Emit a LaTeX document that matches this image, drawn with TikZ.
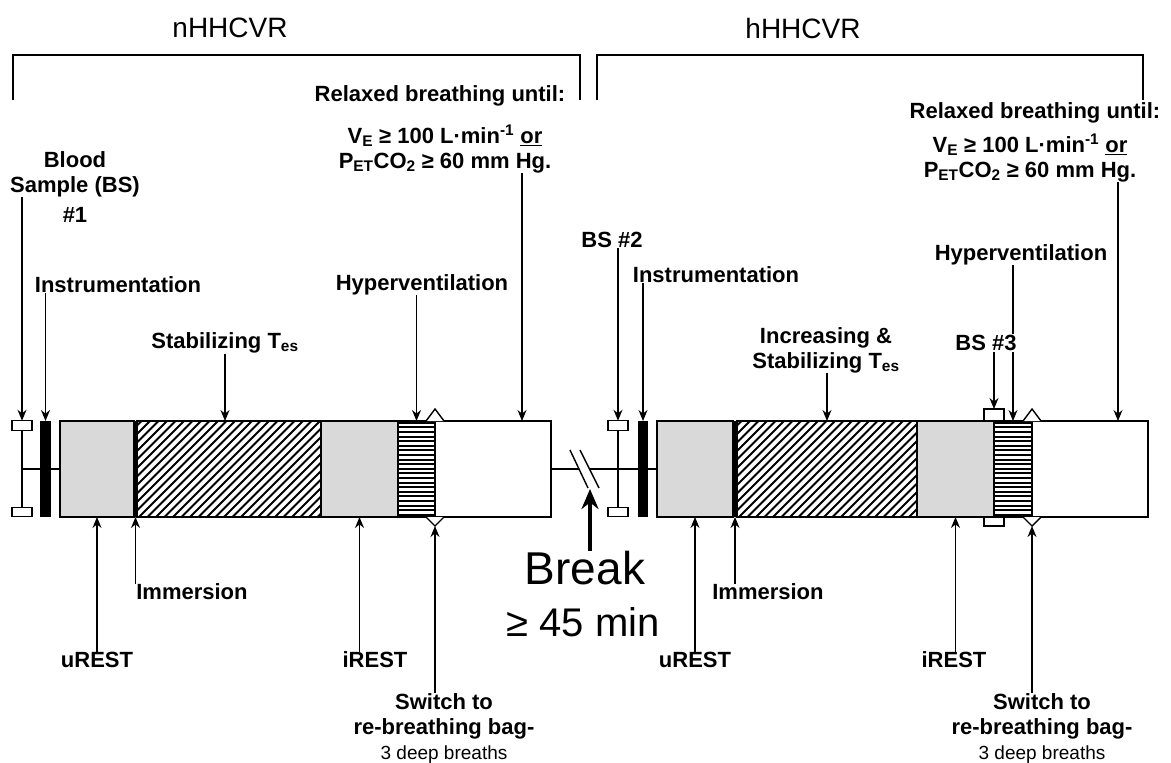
\documentclass[tikz,border=0pt]{standalone}
\usepackage{fontspec}
\setmainfont{Liberation Sans}
\usetikzlibrary{arrows.meta,positioning}

\begin{document}
\begin{tikzpicture}[x=1pt, y=-1pt,
  lbl/.style={font=\bfseries\fontsize{22}{25}\selectfont, align=center, inner sep=0pt},
  ttl/.style={font=\fontsize{28}{30}\selectfont, inner sep=0pt},
  blk/.style={draw, line width=1.6pt, minimum height=96pt, inner sep=0pt, outer sep=0pt},
  greyblk/.style={blk, fill=black!15, minimum width=#1},
  whiteblk/.style={blk, fill=white, minimum width=#1},
  blackblk/.style={fill=black, inner sep=0pt, outer sep=0pt, minimum height=96pt, minimum width=#1},
  hatchblk/.style={blk, fill=white, minimum width=#1, path picture={
      \foreach \k in {-100,-91.5,...,190}
        \draw[line width=1.8pt] ([xshift=\k pt]path picture bounding box.south west) -- ++(110,-110);}},
  stripeblk/.style={blk, fill=white, minimum width=#1, path picture={
      \foreach \k in {2.3,6.9,...,96}
        \draw[line width=2pt] ([yshift=\k pt]path picture bounding box.south west) -- ++(40,0);}},
  bsbox/.style={draw, line width=1.4pt, fill=white, minimum width=20pt, minimum height=#1, inner sep=0pt, outer sep=0pt},
  marker/.style={draw, line width=1.4pt, fill=white},
  arr/.style={-{Stealth[length=11pt,width=9pt]}, line width=1.4pt},
  bigarr/.style={-{Stealth[length=20pt,width=17pt]}, line width=4pt}
]
\useasboundingbox[fill=white] (0,0) rectangle (1171,763);

% phase titles and brackets
\node[ttl] (ttlA) at (230,28) {nHHCVR};
\node[ttl] (ttlB) at (803,28) {hHHCVR};
\draw[line width=1.4pt] (13,100) -- (13,55) -- (580,55) -- (580,100);
\draw[line width=1.4pt] (597,100) -- (597,55) -- (1143,55) -- (1143,100);

% nHHCVR protocol bar
\node[bsbox=9.5pt] (bs1top) at (22,425.5) {};
\node[bsbox=9.5pt] (bs1bot) at (22,512) {};
\node[greyblk=74pt] (urestA) at (97,469) {};
\draw[line width=1.4pt] (bs1top) -- (bs1bot);
\draw[line width=1.4pt] (bs1top.south |- urestA.west) -- (urestA.west);
\node[blackblk=11pt] (bar1) at (45.5,469) {};
\node[hatchblk=184pt] (stabA) at (229,469) {};
\node[greyblk=77pt] (irestA) at (359.5,469) {};
\node[stripeblk=37pt] (hypA) at (416.5,469) {};
\node[whiteblk=116pt] (relA) at (493,469) {};
\node[blackblk=3.5pt] (immA) at (135.5,469) {};
\draw[marker] (hypA.north east) ++(-9,0) -- ++(9,-12) -- ++(9,12);
\draw[marker] (hypA.south east) ++(-9,0) -- ++(9,9) -- ++(9,-9);
\coordinate (swAbot) at ([yshift=-9pt]hypA.south east);

% hHHCVR protocol bar
\node[bsbox=9.5pt] (bs2top) at (618,425.5) {};
\node[bsbox=9.5pt] (bs2bot) at (618,512) {};
\node[greyblk=76pt] (urestB) at (695,469) {};
\draw[line width=1.4pt] (bs2top) -- (bs2bot);
\draw[line width=1.4pt] (relA.east) -- (urestB.west);
\node[blackblk=10pt] (bar2) at (643,469) {};
\node[hatchblk=180pt] (stabB) at (827,469) {};
\node[greyblk=77pt] (irestB) at (955.5,469) {};
\node[stripeblk=38pt] (hypB) at (1013,469) {};
\node[whiteblk=116pt] (relB) at (1090,469) {};
\node[blackblk=4pt] (immB) at (735,469) {};
\node[bsbox=12pt] (bs3top) at (994,415) {};
\node[bsbox=9pt] (bs3bot) at (994,521.5) {};
\draw[marker] (hypB.north east) ++(-9,0) -- ++(9,-12) -- ++(9,12);
\draw[marker] (hypB.south east) ++(-9,0) -- ++(9,9) -- ++(9,-9);
\coordinate (swBbot) at ([yshift=-9pt]hypB.south east);

% break
\coordinate (brk) at (584,469);
\fill[white] (brk) ++(-14,-19) -- ++(10,0) -- ++(19,38) -- ++(-10,0) -- cycle;
\draw[line width=1.4pt] (brk) ++(-14,-19) -- ++(18,38);
\draw[line width=1.4pt] (brk) ++(-4,-19) -- ++(19,38);
\node[font=\fontsize{46}{48}\selectfont, inner sep=0pt] (brkLbl) at (585,568) {Break};
\node[font=\fontsize{40}{42}\selectfont, inner sep=0pt] (brkTime) at (583,622) {≥ 45 min};
\coordinate (brkTip) at (590,489);
\draw[bigarr] (brkLbl.north -| brkTip) -- (brkTip);

% labels above, nHHCVR
\node[lbl] (bs1lbl) at (75,174) {Blood\\Sample (BS)};
\node[lbl] (bs1num) at (75,215) {\#1};
\draw[arr] (bs1lbl.south -| bs1top.north) -- (bs1top.north);
\node[lbl] (insAlbl) at (118,285) {Instrumentation};
\draw[arr] (insAlbl.south -| bar1.north) -- (bar1.north);
\node[lbl] (stabAlbl) at (225,343) {Stabilizing T\textsubscript{es}};
\draw[arr] (stabAlbl.south) -- (stabAlbl.south |- stabA.north);
\node[lbl] (hypAlbl) at (422,285) {Hyperventilation};
\draw[arr] (hypAlbl.south -| hypA.north) -- (hypA.north);
\node[lbl] (relAlbl) at (440,96) {Relaxed breathing until:};
\node[lbl] (condA) at (445,149) {V\textsubscript{E} ≥ 100 L·min\textsuperscript{-1} \underline{or}\\P\textsubscript{ET}CO\textsubscript{2} ≥ 60 mm Hg.};
\coordinate (relAtip) at (522,421);
\draw[arr] (condA.south -| relAtip) -- (relAtip);

% labels below, nHHCVR
\node[lbl] (urestAlbl) at (97,660) {uREST};
\draw[arr] (urestAlbl.north) -- (urestAlbl.north |- urestA.south);
\node[lbl] (immAlbl) at (192,592) {Immersion};
\draw[arr] (immAlbl.north -| immA.south) -- (immA.south);
\node[lbl] (irestAlbl) at (375,660) {iREST};
\draw[arr] (irestAlbl.north -| irestA.south) -- (irestA.south);
\node[lbl, anchor=north] (swAlbl) at (444,693) {Switch to\\re-breathing bag-\\{\mdseries\fontsize{19}{20}\selectfont 3 deep breaths}};
\draw[arr] (swAlbl.north -| swAbot) -- (swAbot);

% labels above, hHHCVR
\node[lbl] (bs2lbl) at (612,240) {BS \#2};
\draw[arr] (bs2lbl.south -| bs2top.north) -- (bs2top.north);
\node[lbl] (insBlbl) at (716,275) {Instrumentation};
\draw[arr] (insBlbl.south -| bar2.north) -- (bar2.north);
\node[lbl] (stabBlbl) at (826,350) {Increasing \&\\Stabilizing T\textsubscript{es}};
\draw[arr] (stabBlbl.south -| stabB.north) -- (stabB.north);
\node[lbl] (hypBlbl) at (1021,255) {Hyperventilation};
\draw[arr] (hypBlbl.south -| hypB.north) -- (hypB.north);
\node[lbl, fill=white, inner sep=1pt] (bs3lbl) at (986,343) {BS \#3};
\draw[arr] (bs3lbl.south -| bs3top.north) -- (bs3top.north);
\node[lbl] (relBlbl) at (1035,113) {Relaxed breathing until:};
\node[lbl] (condB) at (1030,158) {V\textsubscript{E} ≥ 100 L·min\textsuperscript{-1} \underline{or}\\P\textsubscript{ET}CO\textsubscript{2} ≥ 60 mm Hg.};
\coordinate (relBtip) at (1118,421);
\draw[arr] (condB.south -| relBtip) -- (relBtip);

% labels below, hHHCVR
\node[lbl] (urestBlbl) at (695,660) {uREST};
\draw[arr] (urestBlbl.north) -- (urestBlbl.north |- urestB.south);
\node[lbl] (immBlbl) at (768,592) {Immersion};
\draw[arr] (immBlbl.north -| immB.south) -- (immB.south);
\node[lbl] (irestBlbl) at (954,660) {iREST};
\draw[arr] (irestBlbl.north -| irestB.south) -- (irestB.south);
\node[lbl, anchor=north] (swBlbl) at (1042,693) {Switch to\\re-breathing bag-\\{\mdseries\fontsize{19}{20}\selectfont 3 deep breaths}};
\draw[arr] (swBlbl.north -| swBbot) -- (swBbot);
\end{tikzpicture}
\end{document}
